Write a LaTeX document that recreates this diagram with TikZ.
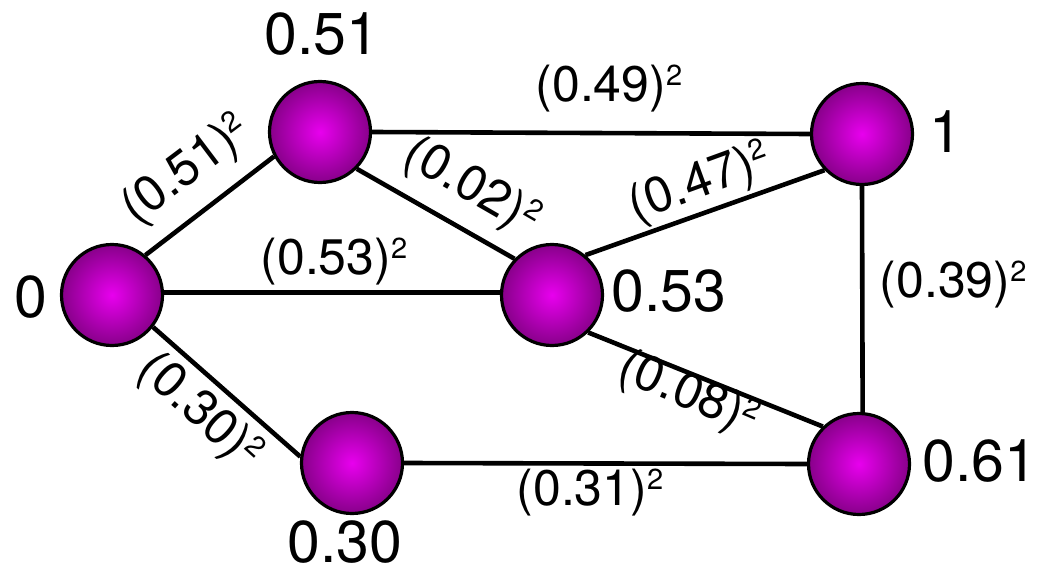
\documentclass[tikz,border=0pt]{standalone}
\usepackage{fontspec}
\setmainfont{TeX Gyre Heros}
\definecolor{ballin}{RGB}{232,0,238}
\definecolor{ballout}{RGB}{136,0,138}
\newcommand{\sqtwo}{\raisebox{16pt}{\fontsize{29}{31}\selectfont 2}}
\begin{document}
\begin{tikzpicture}[x=1pt,y=-1pt,
  ball/.style={circle,draw=black,line width=3.2pt,minimum size=101pt,inner sep=0pt,
    inner color=ballin,outer color=ballout},
  vlabel/.style={font=\fontsize{59}{66}\selectfont,inner sep=0pt},
  edge/.style={line width=4.6pt},
  elabel/.style={font=\fontsize{50}{56}\selectfont,inner sep=0pt}]
\useasboundingbox (0,0) rectangle (1041,567);
% balls
\node[ball] (A) at (112,295) {};
\node[ball] (B) at (320,132) {};
\node[ball] (C) at (552,295) {};
\node[ball] (D) at (862,134) {};
\node[ball] (E) at (352,463) {};
\node[ball] (F) at (859,464) {};
% vertex values
\node[vlabel] (lA) at (31,297) {0};
\node[vlabel] (lB) at (322,34) {0.51};
\node[vlabel] (lC) at (669,291) {0.53};
\node[vlabel] (lD) at (946,132) {1};
\node[vlabel] (lE) at (345,542) {0.30};
\node[vlabel] (lF) at (980,461) {0.61};
% edges
\draw[edge] (A.50) -- (B.208);
\draw[edge] (B.0) -- (D.180);
\draw[edge] (B.-45) -- (C.136);
\draw[edge] (C.50) -- (D.224);
\draw[edge] (A.3) -- (C.177);
\draw[edge] (D.270) -- (F.86);
\draw[edge] (C.-46) -- (F.134);
\draw[edge] (A.-38) -- (E.173);
\draw[edge] (E.0) -- (F.180);
% edge weights
\node[elabel,rotate=37] (wAB) at (187,171) {(0.51)\sqtwo};
\node[elabel] (wBD) at (609,89) {(0.49)\sqtwo};
\node[elabel,rotate=-30] (wBC) at (471,188) {(0.02)\sqtwo};
\node[elabel,rotate=20] (wCD) at (700,184) {(0.47)\sqtwo};
\node[elabel] (wAC) at (334,262) {(0.53)\sqtwo};
\node[elabel] (wDF) at (953,285) {(0.39)\sqtwo};
\node[elabel,rotate=-23] (wCF) at (688,395) {(0.08)\sqtwo};
\node[elabel,rotate=-42] (wAE) at (199,412) {(0.30)\sqtwo};
\node[elabel] (wEF) at (590,493) {(0.31)\sqtwo};
\end{tikzpicture}
\end{document}
